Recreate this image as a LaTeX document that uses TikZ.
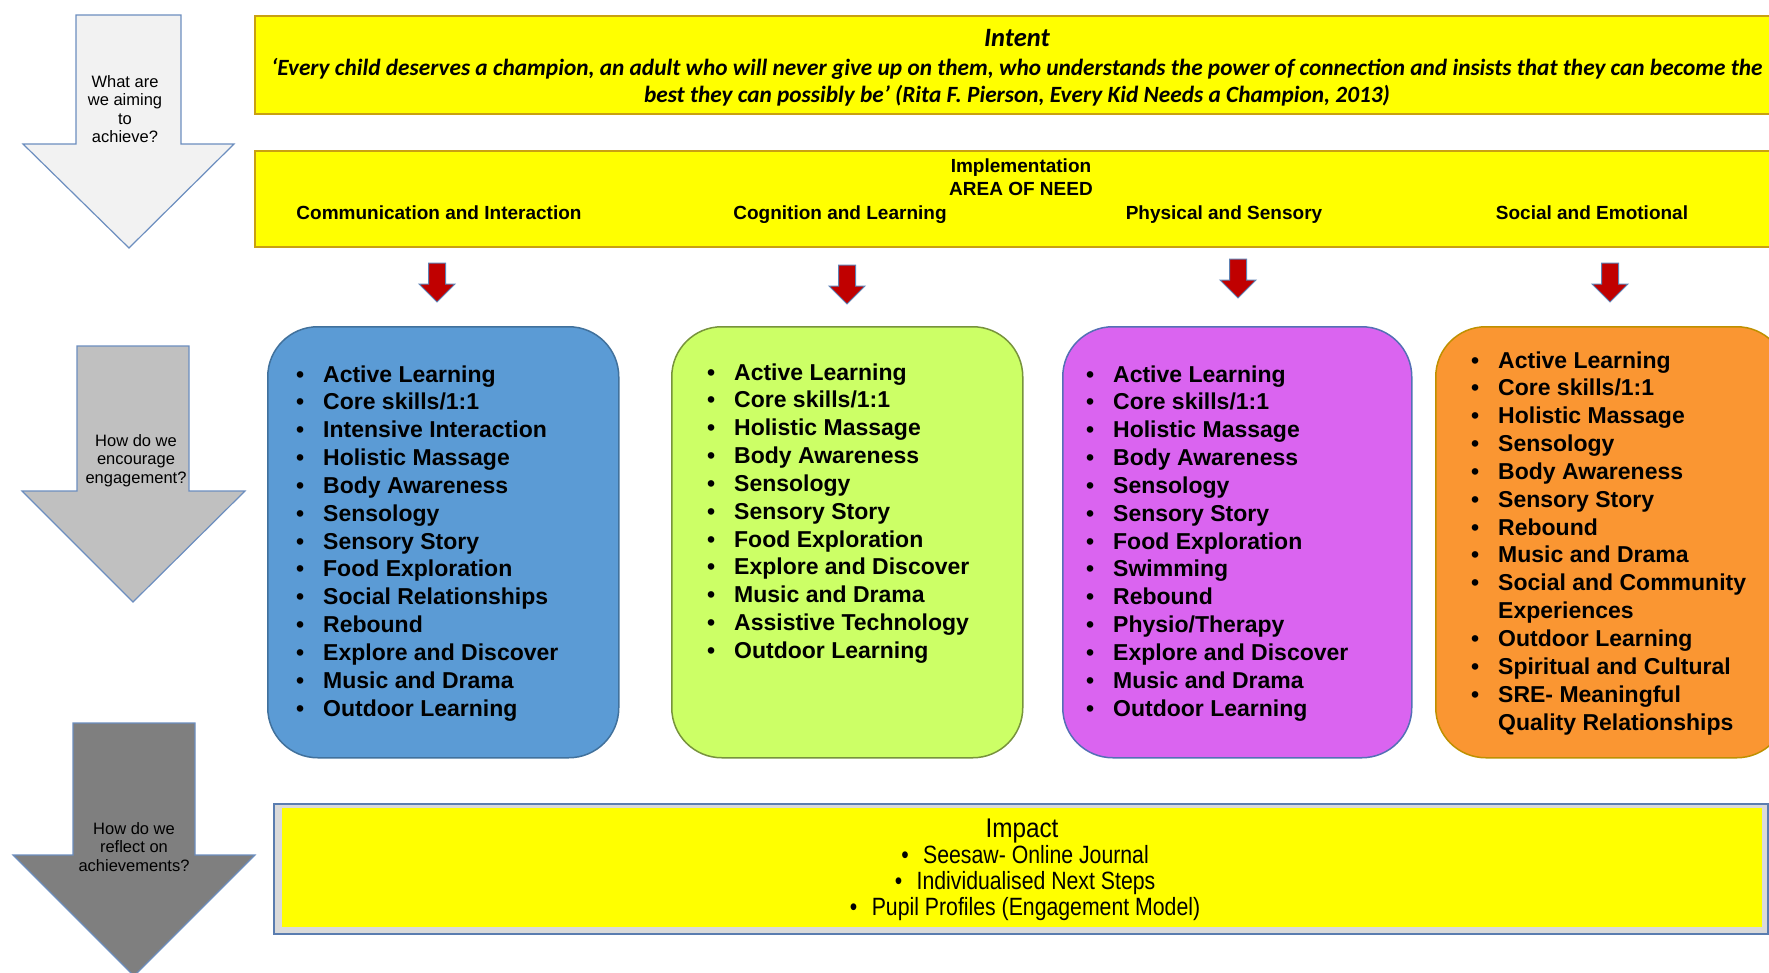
\documentclass[tikz,border=0pt]{standalone}
\usepackage{fontspec}
\setmainfont{Liberation Sans}
\newfontfamily\quotefont{Carlito}
\definecolor{hdryellow}{HTML}{FFFF00}
\definecolor{hdrline}{HTML}{C9A012}
\definecolor{qedge}{HTML}{6C8EBF}
\definecolor{qlight}{HTML}{F2F2F2}
\definecolor{qmid}{HTML}{C0C0C0}
\definecolor{qdark}{HTML}{7F7F7F}
\definecolor{arrowred}{HTML}{C00000}
\definecolor{arrowedge}{HTML}{5F83B5}
\definecolor{bluefill}{HTML}{5B9BD5}
\definecolor{blueline}{HTML}{41719C}
\definecolor{greenfill}{HTML}{CCFF66}
\definecolor{greenline}{HTML}{77933C}
\definecolor{purplefill}{HTML}{DA64F0}
\definecolor{purpleline}{HTML}{5470B5}
\definecolor{orangefill}{HTML}{FA9632}
\definecolor{orangeline}{HTML}{BF9000}
\definecolor{impactline}{HTML}{5A7DB0}
\definecolor{impactband}{HTML}{DADADA}
% bullet item and its continuation line inside the area boxes
\newcommand\itm[1]{\makebox[27pt][l]{\textbullet}#1\par}
\newcommand\cont[1]{\hspace*{27pt}#1\par}
\newcommand\qtext[1]{\parbox[t]{160pt}{\centering #1}}
\newcommand\impitem[1]{\makebox[0pt][r]{\textbullet\hspace{17pt}}#1}
\begin{document}
\begin{tikzpicture}[x=1pt,y=-1pt,
  hdrbox/.style={draw=hdrline, fill=hdryellow, line width=1.5pt, inner sep=0pt, anchor=north west},
  qarrow/.style={draw=qedge, line width=1.2pt, line join=miter},
  qlabel/.style={anchor=base, inner sep=0pt, font=\fontsize{16.5}{18.5}\selectfont},
  areabox/.style={rounded corners=50pt, line width=1.5pt, inner sep=0pt, anchor=north west,
    minimum width=351pt, minimum height=431pt},
  listtext/.style={anchor=base west, inner sep=0pt, font=\fontsize{23}{27.85}\selectfont\bfseries},
  areahead/.style={anchor=base, inner sep=0pt, font=\fontsize{19}{23}\selectfont\bfseries},
  quoteline/.style={anchor=base, inner sep=0pt, font=\quotefont\bfseries\itshape\fontsize{23.3}{28}\selectfont},
  impline/.style={anchor=base, inner sep=0pt, font=\fontsize{25}{26}\selectfont},
  redarrow/.pic={\draw[fill=arrowred, draw=arrowedge, line width=1pt, line join=miter]
    (-8.5,0) -- (8.5,0) -- (8.5,21) -- (18,21) -- (0,39) -- (-18,21) -- (-8.5,21) -- cycle;}
]
\useasboundingbox (0,0) rectangle (1769,972);
\clip (0,0) rectangle (1769,972);

% question arrows on the left
\draw[qarrow, fill=qlight] (76,15) -- (181,15) -- (181,144) -- (234,144) -- (129,248) -- (23,144) -- (76,144) -- cycle;
\node[qlabel] (qaim) at (125,87) {\qtext{What are\\we aiming\\to\\achieve?}};
\draw[qarrow, fill=qmid] (77,346) -- (189,346) -- (189,491) -- (245,491) -- (133,602) -- (22,491) -- (77,491) -- cycle;
\node[qlabel] (qengage) at (136,446) {\qtext{How do we\\encourage\\engagement?}};
\draw[qarrow, fill=qdark] (73,723) -- (195,723) -- (195,855) -- (255,855) -- (134,976) -- (13,855) -- (73,855) -- cycle;
\node[qlabel] (qreflect) at (134,834) {\qtext{How do we\\reflect on\\achievements?}};

% intent banner
\node[hdrbox, minimum width=1531pt, minimum height=98pt] (intent) at (254,15) {};
\node[anchor=base, inner sep=0pt, font=\quotefont\bfseries\itshape\fontsize{26.5}{30}\selectfont] (intentT) at (1017,46) {Intent};
\node[quoteline] (quote1) at (1017,75) {‘Every child deserves a champion, an adult who will never give up on them, who understands the power of connection and insists that they can become the};
\node[quoteline] (quote2) at (1017,102) {best they can possibly be’ (Rita F. Pierson, Every Kid Needs a Champion, 2013)};

% implementation banner
\node[hdrbox, minimum width=1531pt, minimum height=96pt] (impl) at (254,150) {};
\node[areahead] (implT) at (1021,172) {Implementation};
\node[areahead] (need) at (1021,195) {AREA OF NEED};
\node[areahead] (hComm) at (439,219) {Communication and Interaction};
\node[areahead] (hCog) at (840,219) {Cognition and Learning};
\node[areahead] (hPhys) at (1224,219) {Physical and Sensory};
\node[areahead] (hSoc) at (1592,219) {Social and Emotional};

% red arrows from the banner to the areas
\pic at (437,263) {redarrow};
\pic at (847,265) {redarrow};
\pic at (1238,259) {redarrow};
\pic at (1610,263) {redarrow};

% area boxes
\node[areabox, fill=bluefill, draw=blueline] (comm) at (267,326) {};
\node[areabox, fill=greenfill, draw=greenline] (cog) at (671,326) {};
\node[areabox, fill=purplefill, draw=purpleline, minimum width=349pt] (phys) at (1062,326) {};
\node[areabox, fill=orangefill, draw=orangeline] (soc) at (1435,326) {};

\node[listtext] (commList) at (296,382) {\parbox[t]{330pt}{%
\itm{Active Learning}
\itm{Core skills/1:1}
\itm{Intensive Interaction}
\itm{Holistic Massage}
\itm{Body Awareness}
\itm{Sensology}
\itm{Sensory Story}
\itm{Food Exploration}
\itm{Social Relationships}
\itm{Rebound}
\itm{Explore and Discover}
\itm{Music and Drama}
\itm{Outdoor Learning}}};

\node[listtext] (cogList) at (707,380) {\parbox[t]{330pt}{%
\itm{Active Learning}
\itm{Core skills/1:1}
\itm{Holistic Massage}
\itm{Body Awareness}
\itm{Sensology}
\itm{Sensory Story}
\itm{Food Exploration}
\itm{Explore and Discover}
\itm{Music and Drama}
\itm{Assistive Technology}
\itm{Outdoor Learning}}};

\node[listtext] (physList) at (1086,382) {\parbox[t]{330pt}{%
\itm{Active Learning}
\itm{Core skills/1:1}
\itm{Holistic Massage}
\itm{Body Awareness}
\itm{Sensology}
\itm{Sensory Story}
\itm{Food Exploration}
\itm{Swimming}
\itm{Rebound}
\itm{Physio/Therapy}
\itm{Explore and Discover}
\itm{Music and Drama}
\itm{Outdoor Learning}}};

\node[listtext] (socList) at (1471,368) {\parbox[t]{330pt}{%
\itm{Active Learning}
\itm{Core skills/1:1}
\itm{Holistic Massage}
\itm{Sensology}
\itm{Body Awareness}
\itm{Sensory Story}
\itm{Rebound}
\itm{Music and Drama}
\itm{Social and Community}
\cont{Experiences}
\itm{Outdoor Learning}
\itm{Spiritual and Cultural}
\itm{SRE- Meaningful}
\cont{Quality Relationships}}};

% impact banner
\node[draw=impactline, fill=impactband, line width=1.5pt, inner sep=0pt, anchor=north west,
  minimum width=1494pt, minimum height=130pt] (impact) at (273,803) {};
\node[fill=hdryellow, inner sep=0pt, anchor=north west, minimum width=1480pt, minimum height=119pt] (impactIn) at (282,808) {};
\node[impline, font=\fontsize{27}{30}\selectfont, xscale=0.9] (impactT) at (1022,837) {Impact};
\node[impline, xscale=0.85] (imp1) at (1036,863) {\impitem{Seesaw- Online Journal}};
\node[impline, xscale=0.85] (imp2) at (1036,889) {\impitem{Individualised Next Steps}};
\node[impline, xscale=0.85] (imp3) at (1036,915) {\impitem{Pupil Profiles (Engagement Model)}};
\end{tikzpicture}
\end{document}
